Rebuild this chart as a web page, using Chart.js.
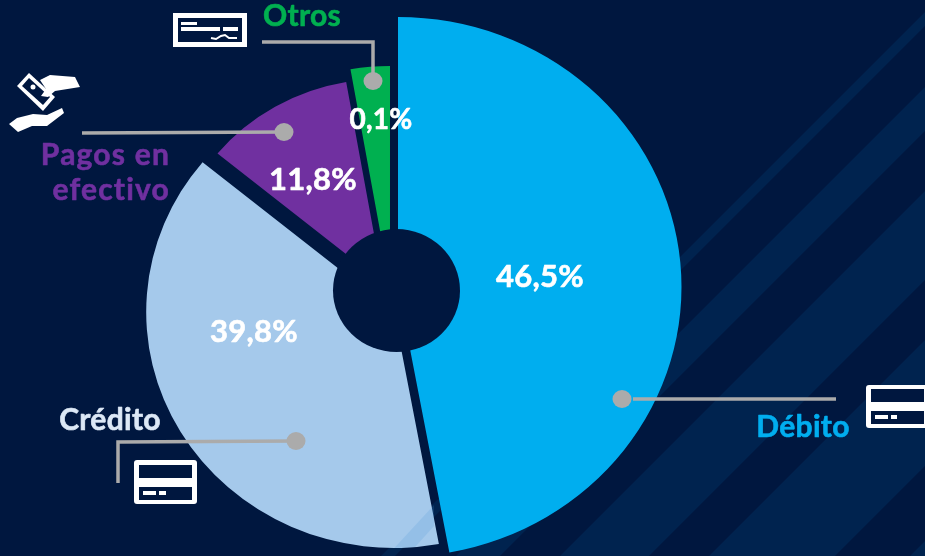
<!DOCTYPE html>
<html><head><meta charset="utf-8">
<style>html,body{margin:0;padding:0;background:#00173F}canvas{display:block}</style>
<script src="https://cdn.jsdelivr.net/npm/chart.js@4/dist/chart.umd.min.js"></script>
</head><body><canvas id="c" width="925" height="556"></canvas>
<script>
// Data: printed percentages, and the wedge shares as they are drawn in the picture
const categories = ["Débito", "Crédito", "Pagos en efectivo", "Otros"];
const printedValues = ["46,5%", "39,8%", "11,8%", "0,1%"];
const drawnShares = [47.1, 38.85, 11.3, 2.75];
const sliceColors = ["#00AEEF", "#A5C9EB", "#7030A0", "#00B050"];

// Layout of each exploded wedge
const stretchX = 1.05;
const wedgeCenters = [[398, 287], [394, 312], [383, 283], [390, 285]];
const wedgeRadii = [270, 236, 204, 219];
const valuePositions = [[540, 277], [254, 332], [313, 180], [381, 120]];
const BG = "#00173F", STRIPE = "#00234F", GREY = "#ABABAB";
const stripeBands = [[937, 951], [1012, 1056], [1116, 1205], [1265, 1391], [1466, 1600]];

const nameLabels = [
  {t: "Otros", x: 302, y: 16, c: "#00B050", a: "center"},
  {t: "Pagos en", x: 170, y: 155, c: "#7030A0", a: "right"},
  {t: "efectivo", x: 170, y: 190, c: "#7030A0", a: "right"},
  {t: "Crédito", x: 110, y: 420, c: "#DCE8F6", a: "center"},
  {t: "Débito", x: 803, y: 427, c: "#00AEEF", a: "center"}
];
const leaders = [
  [[262, 42], [373, 42], [373, 81]],
  [[82, 133], [284, 132]],
  [[118, 483], [118, 442], [296, 441]],
  [[633, 399], [836, 399]]
];
const leaderDots = [[373, 81], [284, 132], [296, 441], [622, 399]];

function card(ctx, x, y, w, h, top, bottom, s1, s2) {
  ctx.fillStyle = "#fff";
  ctx.beginPath(); ctx.roundRect(x, y, w, h, 3); ctx.fill();
  ctx.fillStyle = BG;
  ctx.fillRect(...top); ctx.fillRect(...bottom);
  ctx.fillStyle = "#fff";
  ctx.fillRect(...s1); ctx.fillRect(...s2);
}
function poly(ctx, pts) {
  ctx.beginPath();
  pts.forEach((p, i) => i ? ctx.lineTo(p[0], p[1]) : ctx.moveTo(p[0], p[1]));
  ctx.closePath(); ctx.fill();
}
function drawIcons(ctx) {
  card(ctx, 134, 460, 63, 44, [139, 465, 53, 13], [139, 487, 53, 13], [143, 491, 13, 4], [159, 491, 7, 4]);
  card(ctx, 866, 385, 70, 43, [871, 389, 53, 13], [871, 411, 53, 13], [875, 415, 13, 4], [891, 415, 6, 4]);
  // cheque
  ctx.fillStyle = "#fff"; ctx.fillRect(173, 13, 74, 34);
  ctx.fillStyle = BG; ctx.fillRect(178, 18, 64, 24);
  ctx.fillStyle = "#fff";
  ctx.fillRect(181, 22, 16, 3); ctx.fillRect(181, 27, 39, 4); ctx.fillRect(223, 27, 15, 4);
  ctx.strokeStyle = "#fff"; ctx.lineWidth = 2; ctx.beginPath();
  ctx.moveTo(211, 38); ctx.lineTo(216, 39); ctx.lineTo(221, 36); ctx.lineTo(225, 35);
  ctx.lineTo(229, 38); ctx.lineTo(237, 38); ctx.stroke();
  // hands and banknote
  ctx.fillStyle = "#fff";
  poly(ctx, [[17, 86], [29, 73], [55, 97], [43, 111]]);
  ctx.fillStyle = BG;
  poly(ctx, [[22, 86], [29, 78], [50, 97], [43, 105]]);
  ctx.fillStyle = "#fff";
  ctx.beginPath(); ctx.arc(33, 87, 2.5, 0, 7); ctx.fill();
  poly(ctx, [[40, 80], [50, 75], [75, 77], [80, 87], [55, 91], [48, 97], [41, 96], [46, 89]]);
  poly(ctx, [[9, 124], [17, 118], [33, 114], [47, 115], [62, 108], [64, 113], [47, 126], [32, 126], [18, 132]]);
}

const geometryPlugin = {
  id: "explodedWedges",
  afterDatasetsUpdate(chart) {
    chart.getDatasetMeta(0).data.forEach((el, i) => {
      el.x = wedgeCenters[i][0] / stretchX;
      el.y = wedgeCenters[i][1];
      el.outerRadius = wedgeRadii[i];
      el.innerRadius = 0;
    });
  },
  beforeDraw(chart) {
    const ctx = chart.ctx;
    ctx.save();
    ctx.fillStyle = BG; ctx.fillRect(0, 0, 925, 556);
    ctx.fillStyle = STRIPE;
    stripeBands.forEach(([a, b]) => poly(ctx, [[a, 0], [b, 0], [b - 556, 556], [a - 556, 556]]));
    ctx.restore();
  },
  beforeDatasetsDraw(chart) {
    chart.ctx.save();
    chart.ctx.scale(stretchX, 1);
  },
  afterDatasetsDraw(chart) {
    const ctx = chart.ctx;
    ctx.restore();
    // faint stripe showing through the lower tip of the Crédito wedge
    ctx.save();
    ctx.beginPath();
    ctx.ellipse(wedgeCenters[1][0], wedgeCenters[1][1], wedgeRadii[1] * stretchX, wedgeRadii[1], 0, 0, 7);
    ctx.clip();
    ctx.fillStyle = "rgba(70,150,215,0.18)";
    poly(ctx, [[434, 505], [434, 526], [407, 556], [387, 556]]);
    ctx.restore();
    // central hole
    ctx.fillStyle = BG;
    ctx.beginPath(); ctx.ellipse(396.5, 290.5, 63.5, 61.5, 0, 0, 7); ctx.fill();
    // leaders
    ctx.strokeStyle = GREY; ctx.lineWidth = 3.5; ctx.lineJoin = "miter";
    leaders.forEach(l => {
      ctx.beginPath();
      l.forEach((p, i) => i ? ctx.lineTo(p[0], p[1]) : ctx.moveTo(p[0], p[1]));
      ctx.stroke();
    });
    ctx.fillStyle = GREY;
    leaderDots.forEach(d => { ctx.beginPath(); ctx.ellipse(d[0], d[1], 9.5, 9, 0, 0, 7); ctx.fill(); });
    drawIcons(ctx);
    // text
    ctx.textBaseline = "middle";
    ctx.lineJoin = "round";
    ctx.lineWidth = 0.6;
    ctx.textAlign = "center"; ctx.fillStyle = "#fff"; ctx.strokeStyle = "#fff";
    printedValues.forEach((t, i) => {
      ctx.font = i === 3 ? "bold 28px Lato" : "bold 31px Lato";
      ctx.letterSpacing = "0.3px";
      ctx.fillText(t, valuePositions[i][0], valuePositions[i][1]);
      ctx.strokeText(t, valuePositions[i][0], valuePositions[i][1]);
    });
    ctx.font = "bold 30px Lato";
    nameLabels.forEach(l => {
      ctx.letterSpacing = (l.a === "right") ? "1.2px" : "0.3px";
      ctx.textAlign = l.a; ctx.fillStyle = l.c; ctx.strokeStyle = l.c;
      ctx.fillText(l.t, l.x, l.y);
      ctx.strokeText(l.t, l.x, l.y);
    });
    ctx.letterSpacing = "0px";
  }
};

new Chart(document.getElementById("c"), {
  type: "pie",
  data: {
    labels: categories,
    datasets: [{ data: drawnShares, backgroundColor: sliceColors, borderWidth: 0 }]
  },
  options: {
    responsive: false,
    animation: false,
    layout: { padding: 0 },
    plugins: { legend: { display: false }, tooltip: { enabled: false } }
  },
  plugins: [geometryPlugin]
});
</script></body></html>
